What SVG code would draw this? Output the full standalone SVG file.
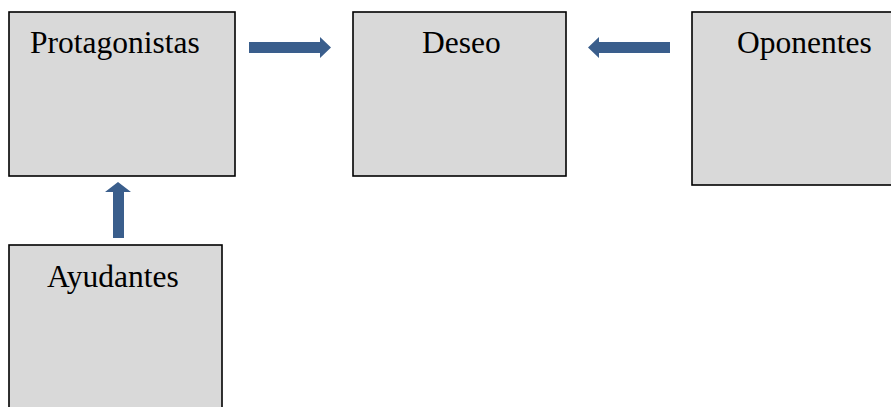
<svg xmlns="http://www.w3.org/2000/svg" width="891" height="407" viewBox="0 0 891 407">
<style>
.box{fill:#d9d9d9;stroke:#000;stroke-width:1.6}
.lbl{font-family:"Liberation Serif","Times New Roman",serif;font-size:31.5px;fill:#000}
.arr{fill:#3a5e8c}
</style>
<rect width="891" height="407" fill="#fff"/>
<g id="protagonistas"><rect class="box" x="9" y="12" width="226" height="164"/><text class="lbl" x="30" y="53">Protagonistas</text></g>
<g id="deseo"><rect class="box" x="353" y="12" width="213" height="164"/><text class="lbl" x="422" y="53">Deseo</text></g>
<g id="oponentes"><rect class="box" x="692" y="12" width="210" height="173"/><text class="lbl" x="737" y="53">Oponentes</text></g>
<g id="ayudantes"><rect class="box" x="9" y="245" width="213" height="175"/><text class="lbl" x="47" y="287">Ayudantes</text></g>
<g id="connectors">
<path class="arr" d="M249 42 H320 V37 L331 47.5 L320 58 V53 H249 Z"/>
<path class="arr" d="M670 42 H599 V37 L588 47.5 L599 58 V53 H670 Z"/>
<path class="arr" d="M113 238 V192 H105 L118 182 L131 192 H124 V238 Z"/>
</g>
</svg>
